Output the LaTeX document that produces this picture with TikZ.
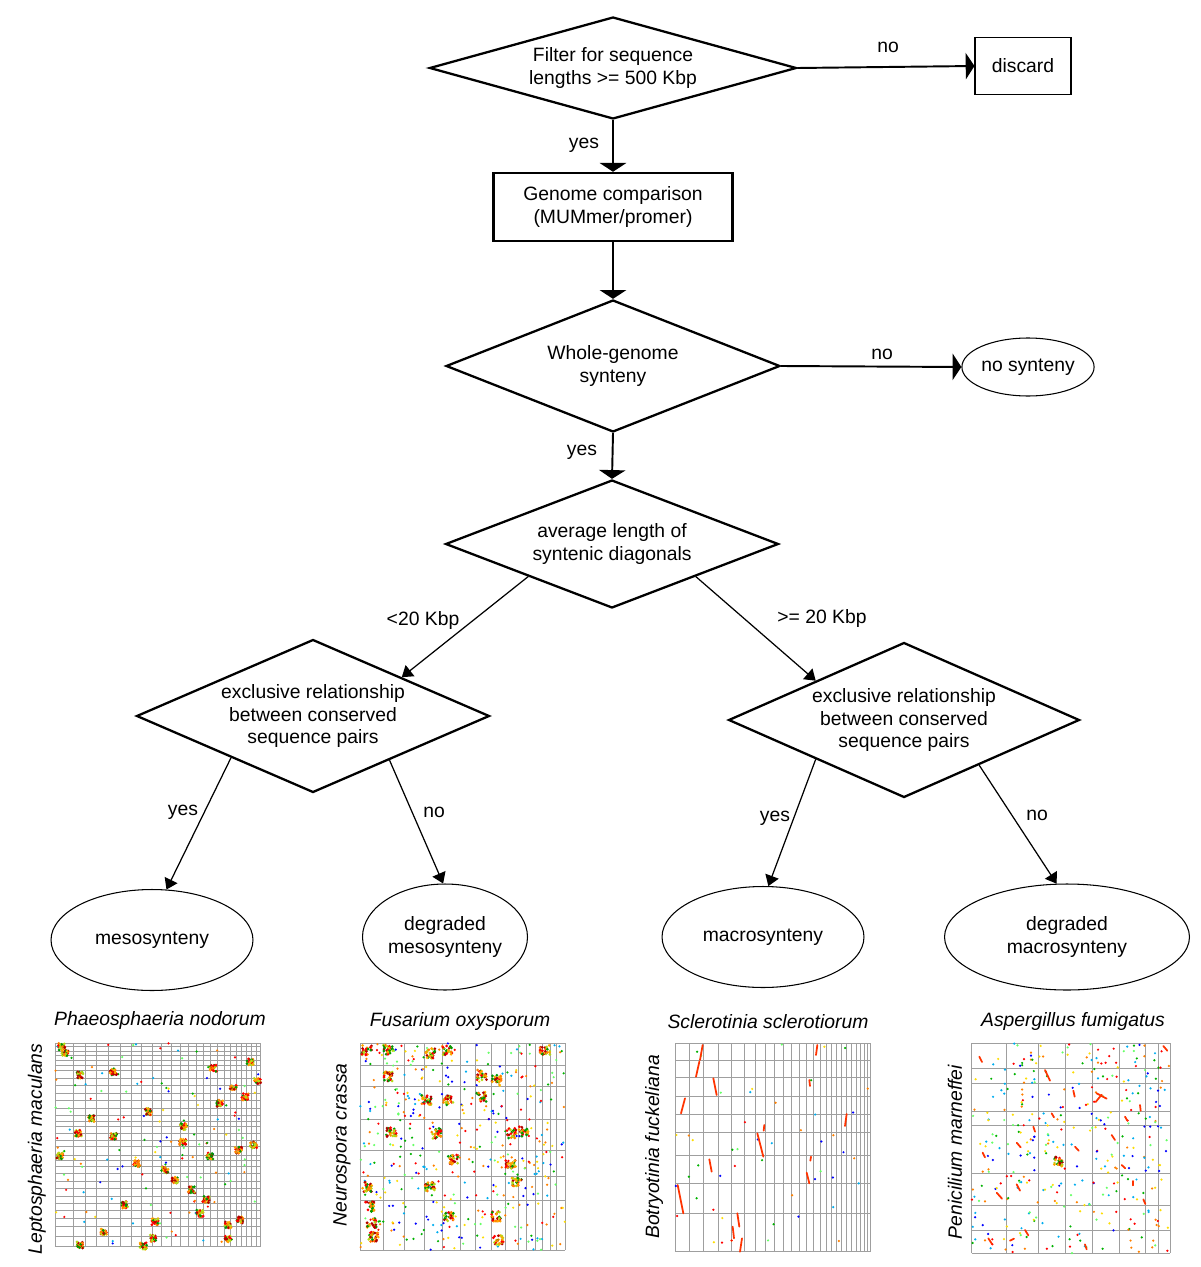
\documentclass[tikz,border=0pt]{standalone}
\usepackage{fontspec}
\setmainfont{Liberation Sans}
\usetikzlibrary{shapes.geometric, arrows.meta}

\tikzset{
  decision/.style={diamond, draw, line width=1.3pt, inner sep=0pt, align=center},
  process/.style={rectangle, draw, align=center, inner sep=0pt},
  outcome/.style={ellipse, draw, line width=0.6pt, align=center, inner sep=0pt},
  flow/.style={line width=1.1pt, -{Triangle[length=5pt,width=15pt]}},
  branch/.style={line width=0.7pt, -{Triangle[length=6pt,width=8pt]}},
  species/.style={font=\fontsize{11}{13}\selectfont\itshape},
  gridline/.style={gray!75, line width=0.4pt},
  synline/.style={orange!40!red, line width=1pt, line cap=round},
}

\pgfmathdeclarerandomlist{anydot}{{red}{orange}{yellow!80!orange}{green!70!black}{green!60}{cyan}{blue}}
\pgfmathdeclarerandomlist{hotdot}{{red}{orange}{orange!70!yellow}{green!60!black}{red!70!black}{yellow!70!green}}

% a patch of conserved hits round (#1,#2)
\newcommand{\synblock}[3]{%
  \foreach \k in {1,...,26}{
    \pgfmathrandomitem{\dotcol}{hotdot}
    \fill[\dotcol] ({#1+#3*rand},{#2+#3*rand}) circle (0.85pt);
  }}
% loose hits over a whole plot
\newcommand{\scatterdots}[5]{%
  \foreach \k in {1,...,#1}{
    \pgfmathrandomitem{\dotcol}{anydot}
    \fill[\dotcol] ({#2+#4*rnd},{#3+#5*rnd}) circle (0.7pt);
  }}

\begin{document}
\begin{tikzpicture}[x=0.02cm, y=-0.02cm, font=\fontsize{11}{13}\selectfont]
  \pgfmathsetseed{11}
  \useasboundingbox (0,0) rectangle (1200,1267);

  % decision tree
  \node[decision, minimum width=7.34cm, minimum height=2.04cm, shape aspect=3.6] (filt) at (613,68) {Filter for sequence\\lengths >= 500 Kbp};
  \node[process, line width=0.6pt, minimum width=1.92cm, minimum height=1.14cm] (disc) at (1023,66) {discard};
  \node[process, line width=1.4pt, minimum width=4.78cm, minimum height=1.36cm] (comp) at (613,207) {Genome comparison\\(MUMmer/promer)};
  \node[decision, minimum width=6.68cm, minimum height=2.64cm, shape aspect=2.5] (whole) at (613,366) {Whole-genome\\synteny};
  \node[outcome, minimum width=2.32cm, minimum height=1.16cm] (nosyn) at (1028,367) {no synteny};
  \node[decision, minimum width=6.66cm, minimum height=2.56cm, shape aspect=2.6] (avg) at (612,544) {average length of\\syntenic diagonals};
  \node[decision, minimum width=7.06cm, minimum height=3.06cm, shape aspect=2.3] (excl1) at (313,716) {exclusive relationship\\between conserved\\sequence pairs};
  \node[decision, minimum width=7.02cm, minimum height=3.1cm, shape aspect=2.3] (excl2) at (904,720) {exclusive relationship\\between conserved\\sequence pairs};
  \node[outcome, minimum width=4.04cm, minimum height=2.02cm] (meso) at (152,940) {mesosynteny};
  \node[outcome, minimum width=3.3cm, minimum height=2.12cm] (dmeso) at (445,937) {degraded\\mesosynteny};
  \node[outcome, minimum width=4.04cm, minimum height=2.02cm] (macro) at (763,937) {macrosynteny};
  \node[outcome, minimum width=4.9cm, minimum height=2.12cm] (dmacro) at (1067,937) {degraded\\macrosynteny};

  \draw[flow] (filt.south) -- (comp.north);
  \draw[flow] (filt.east) -- (disc.west);
  \draw[flow] (comp.south) -- (whole.north);
  \draw[flow] (whole.east) -- (nosyn.west);
  \draw[flow] (whole.south) -- (avg.north);
  \draw[branch] (avg.south west) -- (excl1.north east);
  \draw[branch] (avg.south east) -- (excl2.north west);
  \draw[branch] (excl1.207) -- (meso.74);
  \draw[branch] (excl1.-30) -- (dmeso.92);
  \draw[branch] (excl2.south west) -- (macro.84);
  \draw[branch] (excl2.-31) -- (dmacro.101);

  \node (yes1) at (584,145) {yes};
  \node (no1) at (888,47) {no};
  \node (no2) at (882,354) {no};
  \node (yes2) at (582,452) {yes};
  \node (short) at (423,620) {<20 Kbp};
  \node (long) at (822,618) {>= 20 Kbp};
  \node (yes3) at (183,812) {yes};
  \node (no3) at (434,812) {no};
  \node (yes4) at (775,818) {yes};
  \node (no4) at (1037,815) {no};

  % dot plots
  \node[species] (t1) at (160,1020) {Phaeosphaeria nodorum};
  \node[species, rotate=90] (s1) at (37,1149) {Leptosphaeria maculans};
  \node[species] (t2) at (460,1021) {Fusarium oxysporum};
  \node[species, rotate=90] (s2) at (342,1145) {Neurospora crassa};
  \node[species] (t3) at (768,1022) {Sclerotinia sclerotiorum};
  \node[species, rotate=90] (s3) at (654,1147) {Botryotinia fuckeliana};
  \node[species] (t4) at (1073,1021) {Aspergillus fumigatus};
  \node[species, rotate=90] (s4) at (955,1152) {Penicilium marneffei};

  \begin{scope}[shift={(0,1000)}, x=0.00667cm, y=-0.00667cm]
    \foreach \gx in {165,220,255,290,325,360,393,425,458,485,515,540,565,588,610,632,652,672,690,708,725,740,755,768,780}
      \draw[gridline] (\gx,130) -- (\gx,740);
    \foreach \gy in {130,140,155,165,180,195,210,235,255,280,300,325,345,365,380,400,420,440,465,480,500,520,545,565,590,610,630,655,680,710,740}
      \draw[gridline] (165,\gy) -- (780,\gy);
    \scatterdots{130}{165}{130}{615}{610}
    \foreach \cx/\cy in {185/140,195/160,240/225,275/355,235/400,340/410,445/335,410/490,495/510,525/540,575/570,600/640,
        618/598,640/205,660/310,700/265,735/290,550/380,548/425,375/615,310/695,465/665,460/715,430/738,685/718,
        720/660,772/245,760/435,180/468,340/215,750/185,240/735,685/675,715/450,630/468}
      {\synblock{\cx}{\cy}{10}}
  \end{scope}

  \begin{scope}[shift={(320,1000)}, x=0.00667cm, y=-0.00667cm]
    \foreach \gx in {120,190,252,312,367,420,465,515,555,595,620,645,668,690,708,735}
      \draw[gridline] (\gx,130) -- (\gx,750);
    \foreach \gy in {130,195,260,358,452,530,600,750}
      \draw[gridline] (120,\gy) -- (735,\gy);
    \scatterdots{420}{120}{130}{615}{620}
    \foreach \cx/\cy in {205/230,215/395,140/560,155/670,150/620,160/710,320/300,385/300,400/480,485/290,485/225,530/240,
        575/400,610/395,572/490,590/548,530/650,535/720,385/650,330/560,350/400,675/150,380/150,330/160,140/150,205/150}
      {\synblock{\cx}{\cy}{15}}
  \end{scope}

  \begin{scope}[shift={(620,1000)}, x=0.00667cm, y=-0.00667cm]
    \foreach \gx in {165,207,250,295,335,372,405,435,462,490,515,538,560,580,600,618,635,650,665,680,695,708,720,732,742,750}
      \draw[gridline] (\gx,130) -- (\gx,755);
    \foreach \gy in {130,180,232,288,342,398,467,550,640,755}
      \draw[gridline] (165,\gy) -- (750,\gy);
    \scatterdots{50}{165}{130}{585}{625}
    \foreach \ax/\ay/\bx/\by in {248/135/240/180,238/185/228/230,280/235/290/285,195/295/183/340,173/555/190/640,
        268/478/275/515,412/400/430/470,433/375/431/392,352/640/358/680,338/680/342/715,366/715/360/755,
        568/240/570/258,560/518/568/550,573/470/571/482,592/135/588/165,680/342/675/378}
      \draw[synline] (\ax,\ay) -- (\bx,\by);
  \end{scope}

  \begin{scope}[shift={(920,1000)}, x=0.00667cm, y=-0.00667cm]
    \foreach \gx in {155,258,355,437,517,597,675,715,750}
      \draw[gridline] (\gx,130) -- (\gx,760);
    \foreach \gy in {130,205,250,333,375,520,615,690,760}
      \draw[gridline] (155,\gy) -- (750,\gy);
    \scatterdots{360}{155}{130}{595}{630}
    \synblock{415}{485}{14}
    \foreach \ax/\ay/\bx/\by in {178/170/186/186,375/210/390/242,460/272/464/290,530/280/560/296,545/284/527/306,
        660/315/662/332,615/350/622/362,395/340/402/352,730/138/742/152,290/428/302/442,465/440/476/452,
        188/458/195/472,230/578/246/596,290/553/300/572,205/715/216/732,315/690/325/706,495/733/500/748,
        605/495/616/505,640/543/640/556,670/598/676/612,270/722/282/716,340/380/345/395,575/405/585/420}
      \draw[synline] (\ax,\ay) -- (\bx,\by);
  \end{scope}
\end{tikzpicture}
\end{document}
